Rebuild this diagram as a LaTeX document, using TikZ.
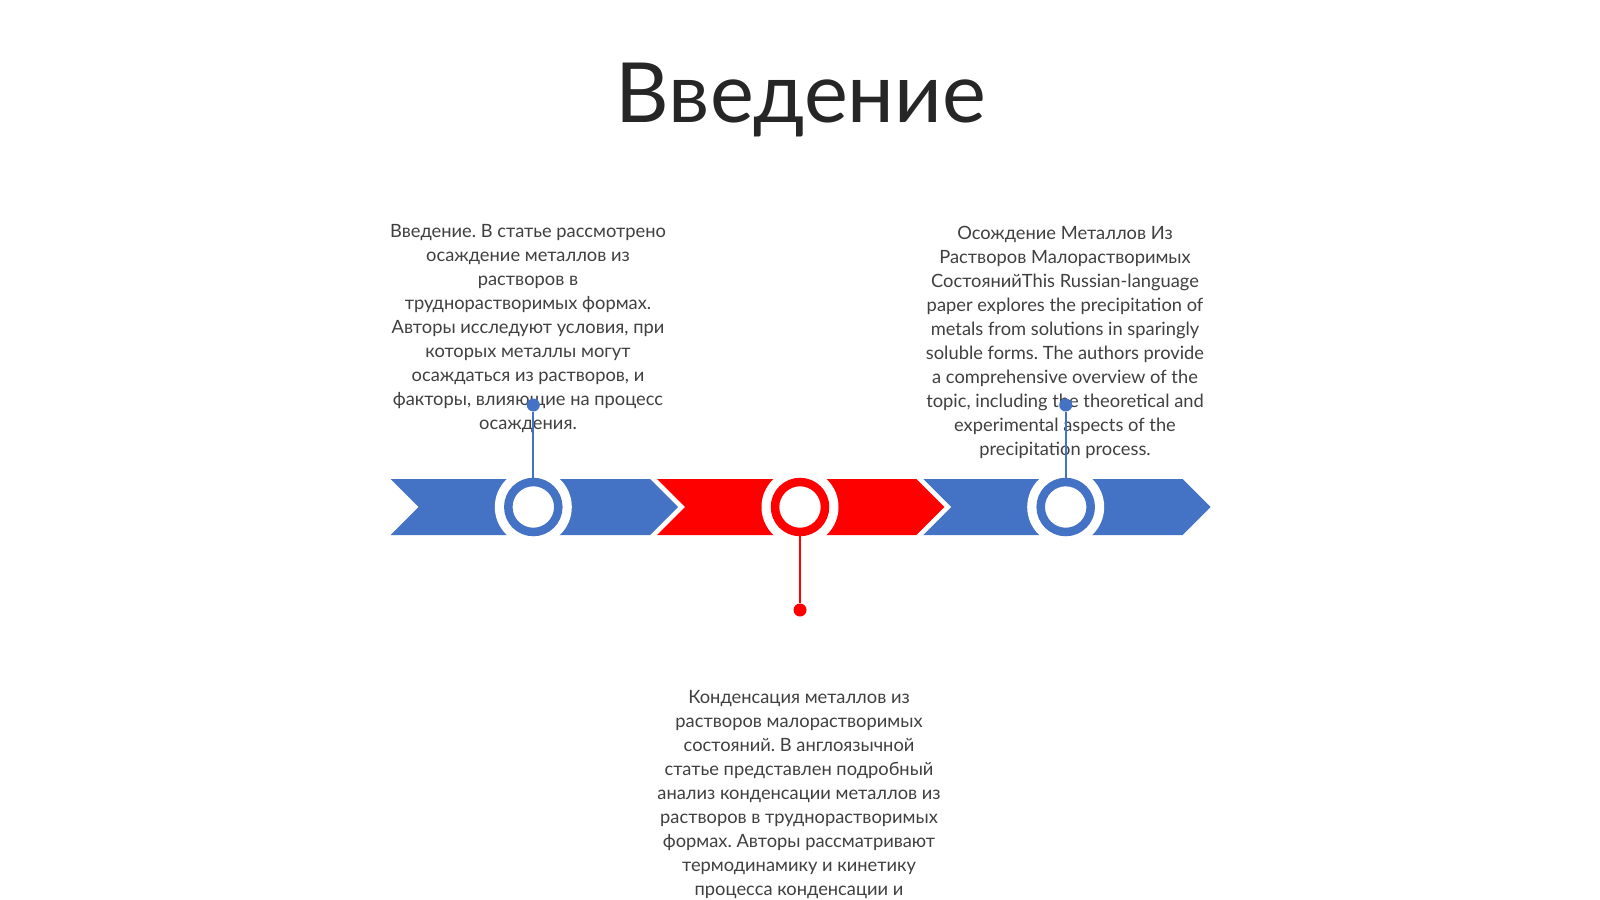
\documentclass[tikz,border=0pt]{standalone}
\usepackage{fontspec}
\setmainfont{Lato}
\definecolor{cblue}{HTML}{4472C4}
\definecolor{cred}{HTML}{FF0000}
\definecolor{ctext}{HTML}{404040}
\definecolor{ctitle}{HTML}{262626}
\frenchspacing
\begin{document}
\begin{tikzpicture}[x=1pt,y=-1pt,
  halo/.style={circle, fill=white, minimum size=77pt, inner sep=0pt, outer sep=0pt},
  ring/.style={circle, draw=#1, line width=8.5pt, fill=white, minimum size=50pt, inner sep=0pt},
  dotnode/.style={circle, fill=#1, minimum size=13pt, inner sep=0pt},
  stem/.style={draw=#1, line width=2pt},
  body/.style={font=\fontsize{18.3}{23.9}\selectfont, text=ctext, align=center, inner sep=0pt, anchor=north},
  titlestyle/.style={font=\fontsize{83}{99}\selectfont, text=ctitle, inner sep=0pt, anchor=base}
]
\useasboundingbox (0,0) rectangle (1600,899);
\fill[white] (0,0) rectangle (1600,899);

\node[titlestyle] (title) at (801,122.4) {Введение};

\node[body] (t1) at (528,224.5) {Введение. В статье рассмотрено\\осаждение металлов из\\растворов в\\труднорастворимых формах.\\Авторы исследуют условия, при\\которых металлы могут\\осаждаться из растворов, и\\факторы, влияющие на процесс\\осаждения.};

\node[body] (t2) at (1065,226.5) {Осождение Металлов Из\\Растворов Малорастворимых\\СостоянийThis Russian-language\\paper explores the precipitation of\\metals from solutions in sparingly\\soluble forms. The authors provide\\a comprehensive overview of the\\topic, including the theoretical and\\experimental aspects of the\\precipitation process.};

\node[body] (t3) at (799,690.5) {Конденсация металлов из\\растворов малорастворимых\\состояний. В англоязычной\\статье представлен подробный\\анализ конденсации металлов из\\растворов в труднорастворимых\\формах. Авторы рассматривают\\термодинамику и кинетику\\процесса конденсации и};

\foreach \x/\c in {390.7/cblue, 657/cred, 923.3/cblue}{
  \fill[\c] (\x,479) -- ++(259.3,0) -- ++(28,28) -- ++(-28,28) -- ++(-259.3,0) -- ++(28,-28) -- cycle;
}

\node[halo] (h1) at (533.3,507) {};
\node[halo] (h2) at (800,507) {};
\node[halo] (h3) at (1065.7,507) {};
\node[ring=cblue] (c1) at (533.3,507) {};
\node[ring=cred] (c2) at (800,507) {};
\node[ring=cblue] (c3) at (1065.7,507) {};

\node[dotnode=cblue] (d1) at (533.3,405) {};
\node[dotnode=cred] (d2) at (800,610) {};
\node[dotnode=cblue] (d3) at (1065.7,405) {};

\draw[stem=cblue] (c1) -- (d1);
\draw[stem=cred] (c2) -- (d2);
\draw[stem=cblue] (c3) -- (d3);
\end{tikzpicture}
\end{document}
